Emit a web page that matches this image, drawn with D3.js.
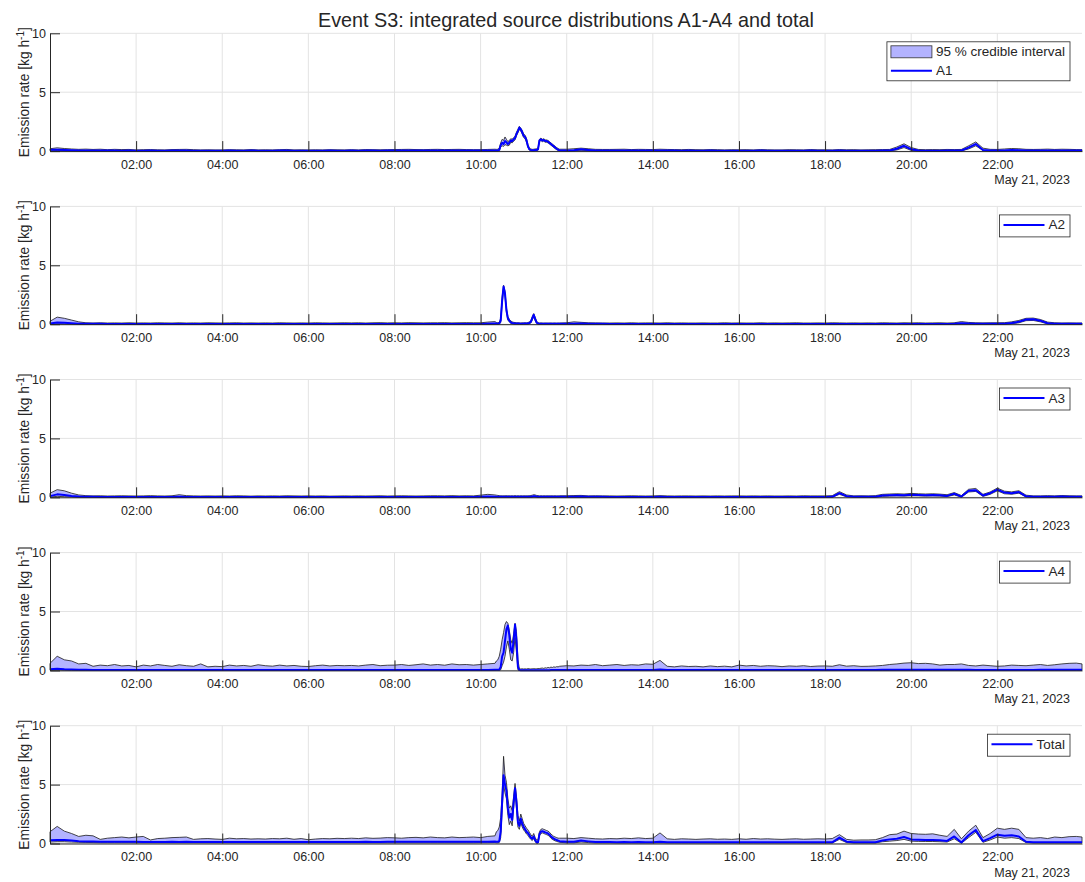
<!DOCTYPE html>
<html><head><meta charset="utf-8">
<script src="https://cdn.jsdelivr.net/npm/d3@7"></script>
<style>
body{margin:0;background:#fff}
svg{display:block}
text{font-family:"Liberation Sans",Arial,Helvetica,sans-serif;fill:#262626}
</style>
</head><body><svg id="c" width="1085" height="882"></svg>
<script>
// ---------- DATA ----------
// sample times, minutes after 00:00 on May 21, 2023
const timesMin = [
0,10,20,30,40,50, 60,70,80,90,100,110, 120,130,140,150,160,170, 180,190,200,210,220,230,
240,250,260,270,280,290, 300,310,320,330,340,350, 360,370,380,390,400,410, 420,430,440,450,460,470,
480,490,500,510,520,530, 540,550,560,570,580,590, 600,610,620,
622,624,626,628,630, 632,634,636,638,640, 642,644,646,648,650, 652,654,656,658,660,
662,664,666,668,670, 672,674,676,678,680, 682,684,686,688,690, 692,694,696,698,700, 702,704,706,708,710,
720,730,740,750,760,770, 780,790,800,810,820,830, 840,850,860,870,880,890, 900,910,920,930,940,950,
960,970,980,990,1000,1010, 1020,1030,1040,1050,1060,1070, 1080,1090,1100,1110,1120,1130,
1140,1150,1160,1170,1180,1190, 1200,1210,1220,1230,1240,1250, 1260,1270,1280,1290,1300,1310,
1320,1330,1340,1350,1360,1370, 1380,1390,1400,1410,1420,1430, 1438];

const xTickHours = [2,4,6,8,10,12,14,16,18,20,22];
const yTicks = [0,5,10];
const panelNames = ["A1","A2","A3","A4","Total"];
const ciLabel = "95 % credible interval";
const titleText = "Event S3: integrated source distributions A1-A4 and total";
const dateLabel = "May 21, 2023";

// ----- A1 -----
const a1Lo = [
.03,.05,.04,.03,.02,.02, .01,.01,.01,.01,.01,.01, .01,.01,.01,.01,.01,.01, .01,.01,.01,.01,.01,.01,
.01,.01,.01,.01,.01,.01, .01,.01,.01,.01,.01,.01, .01,.01,.01,.01,.01,.01, .01,.01,.01,.01,.01,.01,
.01,.01,.01,.01,.01,.01, .01,.01,.01,.01,.01,.01, .01,.01,.02,
.02,.02,.04,.35,.45, .4,.55,.5,.45,.5, .75,.7,.85,.95,1.3, 1.55,1.85,1.7,1.45,1.15,
1.05,.75,.3,.08,.05, .04,.04,.05,.05,.08, .8,.9,.8,.85,.75, .75,.7,.6,.5,.4, .3,.2,.12,.06,.04,
.02,.03,.07,.04,.02,.02, .01,.01,.01,.01,.01,.01, .01,.01,.01,.01,.01,.01, .01,.01,.01,.01,.01,.01,
.01,.01,.01,.01,.01,.01, .01,.01,.01,.01,.01,.01, .01,.01,.01,.01,.01,.01, .01,.01,.02,.02,.1,.3,
.06,.02,.01,.01,.01,.02, .02,.02,.18,.45,.05,.02, .02,.02,.03,.03,.02,.02, .02,.02,.02,.02,.02,.02, .02];
const a1Mid = [
.12,.12,.1,.08,.06,.06, .05,.06,.05,.05,.04,.05, .04,.04,.05,.04,.04,.05, .05,.05,.04,.04,.04,.04,
.04,.05,.04,.04,.05,.04, .04,.04,.05,.05,.04,.04, .04,.04,.04,.05,.04,.04, .05,.04,.05,.05,.04,.05,
.05,.05,.06,.05,.05,.06, .06,.05,.06,.06,.05,.05, .05,.05,.06,
.06,.06,.1,.5,.7, .6,.85,.75,.6,.7, .9,.85,1.0,1.1,1.45, 1.7,2.0,1.85,1.6,1.3,
1.2,.9,.4,.15,.1, .08,.08,.1,.1,.15, .9,1.0,.9,.95,.85, .85,.8,.7,.6,.5, .4,.3,.2,.12,.08,
.06,.08,.15,.1,.06,.05, .05,.05,.06,.05,.05,.05, .05,.06,.05,.05,.04,.05, .04,.04,.05,.04,.04,.04,
.04,.04,.04,.05,.04,.04, .04,.04,.04,.04,.05,.04, .04,.04,.05,.04,.04,.04, .04,.04,.05,.05,.2,.45,
.15,.05,.04,.04,.04,.05, .05,.05,.3,.6,.1,.05, .05,.06,.1,.08,.05,.05, .05,.06,.05,.06,.05,.05, .05];
const a1Hi = [
.2,.28,.22,.18,.15,.17, .14,.16,.12,.15,.13,.14, .1,.12,.13,.11,.1,.13, .14,.15,.12,.1,.11,.1,
.1,.12,.11,.1,.13,.1, .11,.1,.12,.14,.1,.11, .1,.11,.1,.12,.11,.1, .12,.1,.13,.12,.11,.12,
.13,.14,.15,.13,.12,.14, .15,.13,.14,.15,.13,.12, .12,.14,.16,
.15,.16,.25,.7,1.0, .9,1.2,1.0,.8,.9, 1.05,1.0,1.15,1.25,1.6, 1.85,2.1,1.95,1.75,1.45,
1.35,1.05,.55,.25,.18, .15,.16,.18,.2,.25, 1.0,1.1,1.0,1.05,.95, .95,.9,.8,.7,.6, .5,.4,.3,.22,.16,
.16,.2,.25,.2,.15,.14, .14,.15,.16,.13,.15,.14, .13,.16,.14,.13,.12,.14, .12,.11,.13,.12,.1,.12,
.11,.12,.1,.13,.11,.1, .1,.12,.11,.1,.13,.11, .11,.1,.13,.11,.12,.1, .11,.12,.13,.14,.35,.62,
.3,.14,.12,.13,.12,.14, .13,.14,.45,.78,.25,.15, .14,.18,.22,.2,.15,.14, .15,.17,.14,.16,.15,.13, .12];

// ----- A2 -----
const a2Lo = [
0,.03,.02,.01,0,0, 0,0,0,0,0,0, 0,0,0,0,0,0, 0,0,0,0,0,0,
0,0,0,0,0,0, 0,0,0,0,0,0, 0,0,0,0,0,0, 0,0,0,0,0,0,
0,0,0,0,0,0, 0,0,0,0,0,0, 0,0,.01,
.01,.01,.02,.15,1.7, 3.0,2.4,1.0,.35,.2, .08,.05,.03,.02,.02, .01,.01,.01,.01,.01,
.01,.01,.02,.05,.1, .35,.65,.3,.07,.02, .01,.01,.01,.01,.01, .01,.01,.01,.01,.01, .01,.01,.01,.01,.01,
.01,.01,.02,.01,.01,.01, 0,0,0,0,0,0, 0,0,0,0,0,0, 0,0,0,0,0,0,
0,0,0,0,0,0, 0,0,0,0,0,0, 0,0,0,0,0,0, 0,0,0,0,0,0,
0,0,0,0,0,0, 0,.02,.01,0,0,0, 0,.01,.04,.12,.3,.32, .2,.03,0,0,0,0, 0];
const a2Mid = [
.05,.15,.12,.08,.04,.03, .03,.03,.02,.02,.02,.02, .02,.02,.02,.02,.02,.02, .02,.02,.02,.02,.02,.02,
.02,.02,.02,.02,.02,.02, .02,.02,.02,.02,.02,.02, .02,.02,.02,.02,.02,.02, .02,.02,.02,.02,.02,.02,
.02,.02,.02,.02,.02,.02, .02,.02,.02,.02,.02,.02, .02,.03,.05,
.05,.04,.06,.3,2.0, 3.2,2.6,1.2,.5,.3, .15,.1,.08,.06,.05, .05,.05,.04,.04,.05,
.05,.05,.06,.1,.2, .5,.8,.45,.15,.06, .04,.04,.03,.03,.03, .03,.03,.03,.03,.03, .03,.03,.03,.03,.03,
.03,.04,.06,.04,.03,.03, .02,.02,.02,.02,.02,.02, .02,.02,.02,.02,.02,.02, .02,.02,.02,.02,.02,.02,
.02,.02,.02,.02,.02,.02, .02,.02,.02,.02,.02,.02, .02,.02,.02,.02,.02,.02, .02,.02,.02,.02,.02,.02,
.02,.02,.02,.02,.02,.02, .03,.08,.05,.03,.03,.03, .03,.04,.1,.2,.4,.42, .3,.08,.03,.03,.03,.03, .03];
const a2Hi = [
.25,.6,.5,.35,.2,.12, .1,.12,.1,.11,.1,.12, .1,.11,.1,.12,.11,.1, .12,.1,.11,.1,.12,.11,
.1,.11,.12,.1,.11,.1, .11,.1,.12,.11,.1,.11, .1,.12,.11,.1,.11,.12, .11,.12,.1,.12,.13,.11,
.12,.11,.13,.12,.11,.12, .12,.13,.11,.12,.13,.12, .12,.18,.22,
.15,.12,.16,.5,2.3, 3.3,2.8,1.4,.65,.42, .28,.2,.16,.14,.12, .12,.11,.1,.12,.11,
.12,.11,.14,.2,.3, .65,.9,.6,.25,.14, .1,.11,.1,.09,.1, .1,.09,.1,.1,.09, .1,.1,.09,.1,.1,
.12,.2,.16,.12,.11,.1, .1,.11,.1,.12,.1,.11, .11,.1,.12,.1,.11,.1, .1,.11,.1,.1,.12,.1,
.11,.1,.1,.12,.1,.11, .1,.11,.12,.1,.1,.11, .1,.12,.11,.1,.11,.1, .11,.1,.12,.11,.1,.12,
.11,.12,.1,.11,.12,.1, .12,.22,.15,.12,.11,.12, .12,.13,.2,.32,.5,.52, .4,.18,.12,.1,.11,.1, .1];

// ----- A3 -----
const a3Lo = [
.02,.08,.05,.03,.01,.01, 0,0,0,0,0,0, 0,0,0,0,0,0, 0,0,0,0,0,0,
0,0,0,0,0,0, 0,0,0,0,0,0, 0,0,0,0,0,0, 0,0,0,0,0,0,
0,0,0,0,0,0, 0,0,0,0,0,0, .01,.02,.01,
.01,.01,.01,.01,.01, .01,.01,.01,.01,.01, .01,.01,.01,.01,.01, .01,.01,.01,.01,.01,
.01,.01,.01,.01,.01, .01,.02,.02,.01,.01, .01,.01,.01,.01,.01, .01,.01,.01,.01,.01, .01,.01,.01,.01,.01,
.01,.01,.01,.01,.01,.01, 0,0,0,0,0,0, 0,0,0,0,0,0, 0,0,0,0,0,0,
0,0,0,0,0,0, 0,0,0,0,0,0, 0,.01,.25,.04,.01,.01, .01,.01,.08,.1,.12,.1,
.13,.12,.1,.12,.1,.06, .2,.02,.45,.5,.08,.25, .55,.3,.26,.35,.03,.01, .01,.01,.01,.01,.01,.01, .01];
const a3Mid = [
.1,.25,.2,.12,.06,.04, .04,.03,.03,.03,.03,.03, .03,.03,.03,.03,.03,.03, .05,.03,.03,.03,.03,.03,
.03,.03,.03,.03,.03,.03, .03,.03,.03,.03,.03,.03, .03,.03,.03,.03,.03,.03, .03,.03,.03,.03,.03,.03,
.03,.03,.03,.03,.03,.03, .03,.03,.03,.03,.03,.03, .04,.06,.05,
.05,.04,.04,.04,.04, .04,.04,.04,.04,.04, .04,.04,.04,.04,.04, .04,.04,.04,.04,.04,
.04,.04,.04,.04,.05, .06,.1,.08,.06,.05, .04,.04,.04,.04,.04, .04,.04,.04,.04,.04, .04,.04,.04,.04,.04,
.04,.05,.06,.04,.04,.04, .03,.03,.03,.03,.03,.03, .03,.04,.03,.03,.03,.03, .03,.03,.03,.03,.03,.03,
.03,.03,.03,.03,.03,.03, .03,.03,.03,.03,.03,.03, .03,.04,.35,.1,.04,.04, .04,.05,.15,.18,.2,.18,
.22,.2,.18,.2,.17,.12, .3,.06,.55,.6,.15,.35, .65,.4,.35,.45,.08,.04, .04,.05,.04,.06,.05,.04, .04];
const a3Hi = [
.35,.65,.55,.35,.2,.14, .12,.13,.11,.12,.13,.12, .11,.12,.14,.12,.11,.13, .22,.14,.12,.11,.12,.11,
.12,.11,.13,.12,.1,.12, .11,.12,.11,.13,.12,.11, .12,.11,.12,.1,.11,.12, .11,.12,.11,.12,.13,.11,
.12,.13,.12,.11,.12,.13, .13,.12,.14,.12,.13,.12, .18,.25,.2,
.18,.16,.14,.13,.12, .13,.12,.14,.12,.13, .12,.13,.12,.14,.12, .13,.12,.13,.12,.13,
.12,.13,.12,.14,.15, .18,.22,.2,.16,.14, .12,.13,.12,.13,.12, .13,.12,.13,.12,.13, .12,.13,.12,.12,.13,
.13,.15,.16,.12,.13,.12, .12,.11,.12,.13,.12,.11, .12,.14,.12,.11,.12,.12, .11,.12,.11,.12,.11,.12,
.12,.11,.12,.11,.12,.11, .11,.12,.11,.13,.12,.12, .12,.14,.48,.2,.12,.13, .12,.14,.25,.28,.3,.28,
.33,.3,.28,.3,.27,.22, .4,.15,.68,.75,.25,.45, .78,.52,.46,.56,.18,.12, .12,.14,.12,.15,.13,.12, .12];

// ----- A4 -----
const a4Lo = [
.02,.04,.02,.01,0,0, 0,0,0,0,0,0, 0,0,0,0,0,0, 0,0,0,0,0,0,
0,0,0,0,0,0, 0,0,0,0,0,0, 0,0,0,0,0,0, 0,0,0,0,0,0,
0,0,0,0,0,0, 0,0,0,0,0,0, 0,0,0,
0,0,0,.05,.4, .7,1.2,2.0,2.5,1.8, .9,.8,1.5,2.8,1.5, .05,0,0,0,0,
0,0,0,0,0, 0,0,0,0,0, 0,0,0,0,0, 0,0,0,0,0, 0,0,0,0,0,
0,0,0,0,0,0, 0,0,0,0,0,0, 0,0,0,0,0,0, 0,0,0,0,0,0,
0,0,0,0,0,0, 0,0,0,0,0,0, 0,0,0,0,0,0, 0,0,0,0,0,0,
0,0,0,0,0,0, 0,0,0,0,0,0, 0,0,0,0,0,0, 0,0,0,0,0,0, 0];
const a4Mid = [
.1,.15,.1,.08,.06,.05, .04,.04,.04,.04,.04,.04, .04,.04,.04,.04,.04,.04, .04,.04,.04,.04,.04,.04,
.04,.04,.04,.04,.04,.04, .04,.04,.04,.04,.04,.04, .04,.04,.04,.04,.04,.04, .04,.04,.04,.04,.04,.04,
.04,.04,.04,.04,.04,.04, .04,.04,.04,.04,.04,.04, .04,.04,.05,
.05,.05,.06,.3,1.2, 1.5,2.5,3.5,3.8,3.0, 1.8,1.5,2.5,3.9,2.5, .3,.03,.02,.02,.02,
.02,.02,.02,.02,.02, .02,.02,.02,.02,.02, .02,.02,.02,.02,.02, .02,.02,.02,.03,.03, .03,.03,.03,.03,.03,
.03,.03,.03,.03,.04,.03, .04,.04,.04,.04,.04,.04, .04,.08,.03,.03,.03,.03, .03,.03,.03,.03,.03,.03,
.04,.04,.04,.04,.04,.04, .04,.04,.04,.04,.04,.04, .04,.04,.04,.04,.04,.04, .04,.04,.05,.05,.06,.06,
.06,.06,.06,.05,.05,.05, .05,.05,.05,.04,.04,.04, .04,.04,.04,.04,.04,.04, .05,.05,.05,.05,.06,.06, .06];
const a4Hi = [
.6,1.2,.9,.8,.55,.6, .35,.45,.4,.5,.38,.42, .3,.45,.38,.5,.42,.35, .48,.4,.35,.55,.3,.35,
.32,.45,.38,.42,.35,.48, .4,.36,.45,.38,.42,.35, .33,.4,.45,.38,.42,.4, .42,.38,.45,.5,.4,.44,
.45,.5,.42,.48,.55,.45, .5,.44,.55,.48,.5,.45, .5,.55,.6,
.8,.9,1.2,1.8,2.6, 3.2,3.9,4.15,4.0,3.4, 2.6,2.3,3.1,4.0,3.3, .9,.15,.12,.14,.12,
.13,.12,.15,.14,.12, .14,.15,.13,.14,.15, .16,.18,.2,.17,.22, .2,.25,.22,.28,.25, .3,.27,.32,.3,.35,
.4,.38,.45,.42,.5,.4, .45,.5,.42,.48,.45,.55, .52,.85,.35,.3,.38,.33, .35,.3,.38,.32,.36,.3,
.45,.38,.42,.35,.4,.38, .32,.38,.35,.4,.33,.37, .38,.35,.48,.36,.4,.34, .35,.38,.42,.5,.55,.62,
.65,.58,.6,.55,.45,.5, .5,.55,.42,.38,.45,.4, .35,.38,.45,.42,.4,.45, .5,.42,.48,.55,.6,.62, .55];

// ----- Total -----
const totLo = [
.12,.15,.15,.12,.1,.09, .08,.07,.07,.07,.07,.07, .06,.06,.06,.06,.06,.06, .06,.06,.06,.06,.06,.06,
.06,.06,.06,.06,.06,.06, .06,.06,.06,.06,.06,.06, .06,.06,.06,.06,.06,.06, .06,.06,.06,.06,.06,.06,
.06,.06,.06,.06,.06,.06, .06,.06,.06,.06,.06,.06, .07,.07,.08,
.06,.06,.08,.5,2.8, 5.0,4.3,3.8,2.4,1.6, 1.9,1.5,3.0,4.3,3.0, 1.4,1.2,1.8,1.4,1.15,
1.0,.8,.7,.5,.35, .25,.45,.15,.03,.03, .65,.85,.9,.85,.8, .75,.7,.6,.45,.35, .28,.22,.18,.14,.1,
.06,.06,.12,.08,.05,.05, .05,.05,.05,.05,.05,.05, .05,.05,.05,.05,.05,.05, .05,.05,.05,.05,.05,.05,
.05,.05,.05,.05,.05,.05, .05,.05,.05,.05,.05,.05, .05,.05,.35,.08,.05,.05, .05,.05,.15,.2,.25,.35,
.2,.18,.17,.17,.15,.12, .4,.03,.5,.95,.1,.3, .55,.45,.5,.42,.08,.05, .05,.05,.05,.05,.05,.05, .05];
const totMid = [
.28,.3,.3,.25,.2,.18, .16,.15,.15,.14,.15,.14, .14,.13,.12,.13,.13,.14, .13,.14,.13,.12,.12,.12,
.12,.13,.12,.12,.12,.13, .12,.12,.13,.12,.12,.12, .12,.12,.13,.13,.13,.13, .13,.13,.14,.13,.13,.14,
.14,.14,.14,.15,.14,.15, .15,.14,.15,.15,.15,.15, .14,.15,.16,
.15,.15,.2,1.0,3.5, 5.8,5.0,4.5,3.0,2.2, 2.5,2.0,3.5,4.7,3.5, 1.8,1.5,2.1,1.7,1.4,
1.2,1.0,.9,.7,.5, .4,.6,.3,.1,.1, .8,1.0,1.05,1.0,.95, .9,.85,.75,.6,.5, .4,.35,.3,.25,.2,
.15,.15,.25,.18,.12,.12, .12,.11,.12,.11,.12,.11, .11,.15,.1,.1,.1,.1, .1,.1,.1,.1,.1,.1,
.1,.1,.1,.1,.1,.1, .1,.1,.1,.1,.1,.1, .1,.1,.5,.15,.1,.1, .1,.1,.25,.35,.4,.55,
.35,.32,.3,.3,.28,.22, .6,.08,.7,1.15,.2,.45, .75,.65,.7,.6,.15,.1, .1,.1,.1,.1,.1,.1, .1];
const totHi = [
1.0,1.45,1.05,.85,.6,.7, .65,.35,.45,.5,.55,.48, .55,.6,.3,.42,.45,.5, .52,.55,.35,.4,.42,.38,
.35,.45,.4,.42,.38,.4, .38,.42,.4,.45,.36,.42, .32,.38,.42,.4,.44,.42, .45,.42,.48,.44,.46,.5,
.48,.45,.5,.52,.48,.55, .5,.48,.55,.5,.52,.55, .5,.6,.65,
1.0,1.1,1.4,2.2,4.2, 7.4,5.8,5.2,3.8,3.0, 3.2,2.8,4.0,5.1,4.0, 2.4,1.9,2.5,2.1,1.7,
1.5,1.3,1.15,.95,.75, .6,.85,.5,.3,.3, 1.0,1.2,1.25,1.2,1.15, 1.1,1.05,.95,.8,.7, .6,.55,.5,.45,.45,
.45,.42,.5,.45,.4,.38, .42,.4,.45,.42,.48,.42, .45,.9,.4,.35,.4,.38, .35,.38,.4,.36,.38,.35,
.4,.36,.42,.38,.4,.37, .35,.38,.4,.36,.38,.4, .38,.42,.75,.35,.28,.3, .3,.32,.5,.75,.8,1.05,
.85,.8,.78,.82,.7,.6, 1.2,.4,1.05,1.55,.5,.85, 1.3,1.2,1.3,1.2,.5,.45, .5,.42,.55,.5,.58,.6, .55];

// ---------- DRAWING ----------
const series = [
  {name: panelNames[0], lo: a1Lo, mid: a1Mid, hi: a1Hi},
  {name: panelNames[1], lo: a2Lo, mid: a2Mid, hi: a2Hi},
  {name: panelNames[2], lo: a3Lo, mid: a3Mid, hi: a3Hi},
  {name: panelNames[3], lo: a4Lo, mid: a4Mid, hi: a4Hi},
  {name: panelNames[4], lo: totLo, mid: totMid, hi: totHi}
];
series.forEach(s => ["lo","mid","hi"].forEach(k => {
  if (s[k].length !== timesMin.length) throw new Error(s.name + " " + k + " length " + s[k].length + " vs " + timesMin.length);
}));

const svg = d3.select("#c");
const t0 = Date.UTC(2023, 4, 21);
const dates = timesMin.map(m => new Date(t0 + m * 60000));
const X0 = 50, X1 = 1082;
const x = d3.scaleUtc().domain([dates[0], dates[dates.length - 1]]).range([X0, X1]);
const xTickDates = xTickHours.map(h => new Date(t0 + h * 3600000));
const fmt = d3.utcFormat("%H:%M");
const axisColor = "#262626";
const gridColor = "#e3e3e3";
const ciFill = "#b3b3ff";

svg.append("text").attr("x", (X0 + X1) / 2).attr("y", 27).attr("text-anchor", "middle")
  .style("font-size", "19.8px").text(titleText);

series.forEach((s, i) => {
  const top = 33.3 + i * 173.1;
  const bottom = top + 117.8;
  const y = d3.scaleLinear().domain([0, 10]).range([bottom, top]);
  const g = svg.append("g");

  // grid
  const grid = g.append("g");
  grid.selectAll("line.vx").data(xTickDates).join("line")
    .attr("x1", d => x(d)).attr("x2", d => x(d)).attr("y1", top).attr("y2", bottom)
    .attr("stroke", gridColor).attr("stroke-width", 1);
  grid.selectAll("line.hy").data(yTicks).join("line")
    .attr("x1", X0).attr("x2", X1).attr("y1", d => y(d)).attr("y2", d => y(d))
    .attr("stroke", gridColor).attr("stroke-width", 1);

  // credible interval
  const idx = d3.range(dates.length);
  const area = d3.area().x(j => x(dates[j])).y0(j => y(s.lo[j])).y1(j => y(s.hi[j]));
  g.append("path").datum(idx).attr("d", area)
    .attr("fill", ciFill).attr("stroke", "#1a1a1a").attr("stroke-width", 0.8)
    .attr("stroke-linejoin", "round");

  // mean line
  const line = d3.line().x(j => x(dates[j])).y(j => y(s.mid[j]));
  g.append("path").datum(idx).attr("d", line)
    .attr("fill", "none").attr("stroke", "#0000ff").attr("stroke-width", 2)
    .attr("stroke-linejoin", "round");

  // axes
  const xa = g.append("g").attr("transform", `translate(0,${bottom})`)
    .call(d3.axisBottom(x).tickValues(xTickDates).tickFormat(fmt).tickSize(-10).tickSizeOuter(0).tickPadding(9));
  const ya = g.append("g").attr("transform", `translate(${X0},0)`)
    .call(d3.axisLeft(y).tickValues(yTicks).tickFormat(d3.format("d")).tickSize(-10).tickSizeOuter(0).tickPadding(4));
  [xa, ya].forEach(a => {
    a.select(".domain").attr("stroke", axisColor).attr("stroke-width", 1);
    a.selectAll(".tick line").attr("stroke", axisColor).attr("stroke-width", 1);
    a.selectAll(".tick text").attr("fill", axisColor)
      .style("font-size", "12.5px").style("font-family", '"Liberation Sans",Arial,sans-serif');
  });

  svg.append("text").attr("x", 1070).attr("y", bottom + 33).attr("text-anchor", "end")
    .style("font-size", "12.5px").text(dateLabel);

  // y label
  const yl = svg.append("text").attr("transform", `translate(29,${(top + bottom) / 2}) rotate(-90)`)
    .attr("text-anchor", "middle").style("font-size", "13.8px");
  yl.append("tspan").text("Emission rate [kg h");
  yl.append("tspan").attr("dy", -5.5).style("font-size", "10px").text("-1");
  yl.append("tspan").attr("dy", 5.5).text("]");

  // legend
  const lg = svg.append("g");
  const entries = i === 0 ? [{type: "patch", label: ciLabel}, {type: "line", label: s.name}] : [{type: "line", label: s.name}];
  const textEnd = 1065;
  const texts = entries.map((e, k) => lg.append("text")
    .attr("x", textEnd).attr("y", top + 18.5 + k * 19).attr("text-anchor", "end")
    .attr("dominant-baseline", "central").style("font-size", "13.5px").text(e.label));
  const maxW = d3.max(texts, t => t.node().getComputedTextLength());
  const textStart = textEnd - maxW;
  texts.forEach(t => t.attr("text-anchor", "start").attr("x", textStart));
  const boxH = entries.length === 2 ? 39 : 22;
  lg.insert("rect", "text").attr("x", textStart - 49).attr("y", top + 8.5)
    .attr("width", 1070 - (textStart - 49)).attr("height", boxH)
    .attr("fill", "#fff").attr("stroke", axisColor).attr("stroke-width", 0.8);
  entries.forEach((e, k) => {
    const cy = top + 18.5 + k * 19;
    if (e.type === "patch") {
      lg.append("rect").attr("x", textStart - 45).attr("y", cy - 6).attr("width", 41).attr("height", 12)
        .attr("fill", ciFill).attr("stroke", "#333").attr("stroke-width", 0.8);
    } else {
      lg.append("line").attr("x1", textStart - 45).attr("x2", textStart - 4).attr("y1", cy).attr("y2", cy)
        .attr("stroke", "#0000ff").attr("stroke-width", 2);
    }
  });
});
</script>
</body></html>
